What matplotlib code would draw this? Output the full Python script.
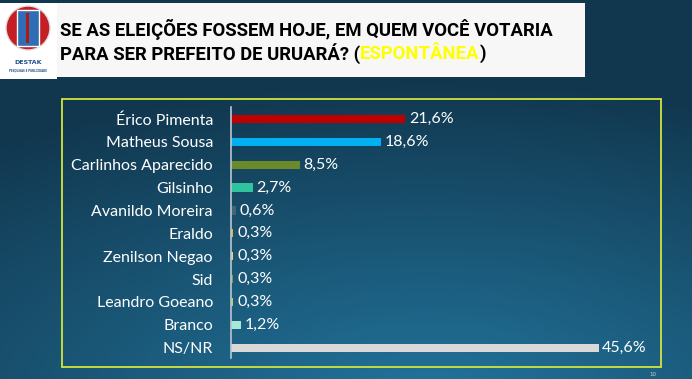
import numpy as np
import matplotlib.pyplot as plt
from matplotlib.patches import Rectangle, Circle

candidates = ["Érico Pimenta", "Matheus Sousa", "Carlinhos Aparecido", "Gilsinho",
              "Avanildo Moreira", "Eraldo", "Zenilson Negao", "Sid",
              "Leandro Goeano", "Branco", "NS/NR"]
values = [21.6, 18.6, 8.5, 2.7, 0.6, 0.3, 0.3, 0.3, 0.3, 1.2, 45.6]
colors = ["#c00000", "#00b0f0", "#6b8a2a", "#2fc39e", "#3e6676", "#e9ad45",
          "#e5d86a", "#7d9a5c", "#b3d36b", "#a6e9d8", "#d9d9d9"]

W, H = 692, 379
fig = plt.figure(figsize=(W / 100, H / 100), dpi=100)

# background gradient (lighter towards the bottom middle)
bg = fig.add_axes([0, 0, 1, 1])
yy, xx = np.mgrid[0:1:200j, 0:1:300j]   # yy = 0 at the top
d = np.sqrt((xx - 0.62) ** 2 + ((yy - 1.05) * 1.25) ** 2)
t = np.clip(1 - d / 1.05, 0, 1)
c0 = np.array([0x11, 0x37, 0x4e]) / 255
c1 = np.array([0x22, 0x74, 0x9c]) / 255
img = c0[None, None, :] * (1 - t[..., None]) + c1[None, None, :] * t[..., None]
bg.imshow(img, extent=[0, W, H, 0], origin="upper", aspect="auto")
bg.set_xlim(0, W)
bg.set_ylim(H, 0)
bg.axis("off")

# title box and logo
bg.add_patch(Rectangle((0, 3), 585, 74, facecolor="#f7f7f7", edgecolor="none"))
bg.add_patch(Rectangle((0, 3), 57, 76, facecolor="#ffffff", edgecolor="none"))
bg.add_patch(Circle((28, 28), 22, facecolor="#c41f24", edgecolor="#e0e0e0", lw=1))
bg.add_patch(Rectangle((17, 10), 22, 36, facecolor="#2f6db5", edgecolor="white", lw=1))
bg.add_patch(Rectangle((26, 13), 3, 30, facecolor="#b01818", edgecolor="none"))
bg.text(28, 63, "DESTAK", fontsize=4.5, fontweight="bold", color="#1f4e8c",
        ha="center", va="center")
bg.text(28, 70, "PESQUISAS E PUBLICIDADE", fontsize=1.8, fontweight="bold",
        color="#1f4e8c", ha="center", va="center")

tfont = "Roboto"
line1 = "SE AS ELEIÇÕES FOSSEM HOJE, EM QUEM VOCÊ VOTARIA"
t1 = bg.text(60, 29, line1, fontsize=14, fontweight="bold", color="black",
             ha="left", va="center", family=tfont)
fig.canvas.draw()
r = fig.canvas.get_renderer()
fs = 14 * 495 / t1.get_window_extent(r).width
t1.set_fontsize(fs)
p1 = bg.text(60, 54, "PARA SER PREFEITO DE URUARÁ? (", fontsize=fs,
             fontweight="bold", color="black", ha="left", va="center", family=tfont)
fig.canvas.draw()
x2 = 60 + p1.get_window_extent(r).width
p2 = bg.text(x2, 54, "ESPONTÂNEA", fontsize=fs, fontweight="bold",
             color="#ffff00", ha="left", va="center", family=tfont)
fig.canvas.draw()
x3 = x2 + p2.get_window_extent(r).width
bg.text(x3, 54, ")", fontsize=fs, fontweight="bold", color="black",
        ha="left", va="center", family=tfont)

# chart frame
bg.add_patch(Rectangle((62, 99), 599, 268, facecolor="none", edgecolor="#d2e43c", lw=1.3))
bg.text(653, 374, "10", fontsize=4, color="#cccccc", ha="center", va="center")

# bar chart
left, right, top, bottom = 231, 661, 107, 358
ax = fig.add_axes([left / W, 1 - bottom / H, (right - left) / W, (bottom - top) / H])
ax.patch.set_alpha(0)
y = np.arange(len(candidates))
ax.barh(y, values, height=0.36, color=colors)
for yi, v in zip(y, values):
    ax.text(v + 0.45, yi, f"{v:.1f}%".replace(".", ","), color="white",
            fontsize=11.5, va="center", ha="left", family="Lato")
ax.set_xlim(0, (right - left) / 8.06)
ax.set_ylim(10.45, -0.52)
ax.set_yticks(y)
ax.set_yticklabels(candidates, color="white", fontsize=11.5, family="Lato")
ax.tick_params(axis="y", length=0, pad=13)
ax.set_xticks([])
for s in ["top", "right", "bottom"]:
    ax.spines[s].set_visible(False)
ax.spines["left"].set_color("#b9c7cf")
ax.spines["left"].set_linewidth(1.2)

fig.savefig("out.png", dpi=100)
